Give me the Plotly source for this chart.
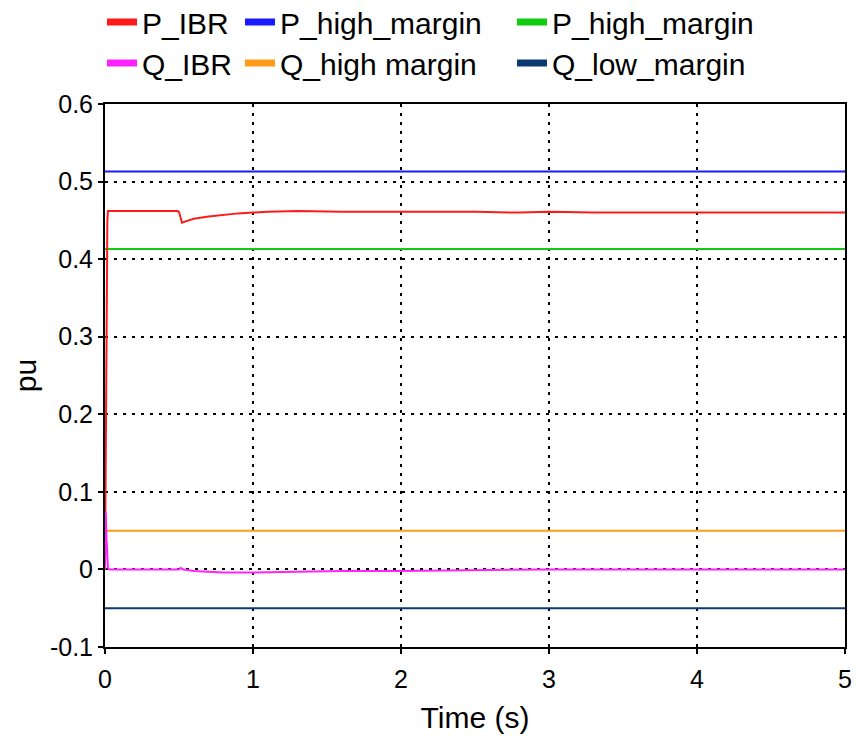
import plotly.graph_objects as go

# ---- data ----
t_end = [0.0, 5.0]

t_p_ibr = [0, 0.004, 0.008, 0.012, 0.016, 0.02, 0.49, 0.50, 0.51, 0.52, 0.55, 0.6, 0.7,
           0.8, 0.9, 1.0, 1.1, 1.3, 1.6, 2.0, 2.5, 2.8, 3.0, 3.3, 4.0, 5.0]
p_ibr = [0.0, 0.14, 0.30, 0.41, 0.45, 0.462, 0.462, 0.461, 0.452, 0.447, 0.449, 0.452, 0.455,
         0.457, 0.459, 0.460, 0.461, 0.462, 0.461, 0.461, 0.461, 0.460, 0.461, 0.460, 0.460, 0.460]

t_q_ibr = [0, 0.003, 0.006, 0.01, 0.015, 0.02, 0.03, 0.5, 0.51, 0.53, 0.6, 0.7, 0.8, 0.9,
           1.0, 1.3, 1.6, 2.0, 2.4, 2.7, 3.0, 5.0]
q_ibr = [0.0, 0.075, 0.07, 0.04, 0.01, 0.002, 0.0, 0.0, 0.002, 0.0, -0.002, -0.003, -0.004,
         -0.004, -0.004, -0.003, -0.002, -0.002, -0.001, 0.0, 0.0, 0.0]

p_high_margin_blue = [0.513, 0.513]
p_high_margin_green = [0.413, 0.413]
q_high_margin = [0.05, 0.05]
q_low_margin = [-0.05, -0.05]

names = ["P_IBR", "P_high_margin", "P_high_margin", "Q_IBR", "Q_high margin", "Q_low_margin"]
colors = ["#FF1A1A", "#1A1AFF", "#11CC11", "#FF22FF", "#FF9A1A", "#0B3A6E"]
xs = [t_p_ibr, t_end, t_end, t_q_ibr, t_end, t_end]
ys = [p_ibr, p_high_margin_blue, p_high_margin_green, q_ibr, q_high_margin, q_low_margin]

y_ticks = [-0.1, 0, 0.1, 0.2, 0.3, 0.4, 0.5, 0.6]
y_labels = ["-0.1", "0", "0.1", "0.2", "0.3", "0.4", "0.5", "0.6"]
x_ticks = [0, 1, 2, 3, 4, 5]

FONT = "Liberation Sans, Arial, sans-serif"

fig = go.Figure()
draw_order = [4, 5, 1, 2, 0, 3]
for i in draw_order:
    fig.add_trace(go.Scatter(x=xs[i], y=ys[i], mode="lines", name=names[i],
                             line=dict(color=colors[i], width=2),
                             legendgroup="g%d" % i, showlegend=False,
                             hoverinfo="x+y+name"))

# legend entries (thick sample lines), one legend per entry to match positions
text_x = [143, 281, 553, 143, 281, 553]
text_y = [22, 22, 22, 63, 63, 63]
W, H = 856, 742
legends = {}
for i in range(6):
    key = "legend" if i == 0 else "legend%d" % (i + 1)
    fig.add_trace(go.Scatter(x=[None], y=[None], mode="lines", name=names[i],
                             line=dict(color=colors[i], width=7),
                             legendgroup="g%d" % i, showlegend=True,
                             legend=key))
    legends[key] = dict(
        xref="container", yref="container",
        x=(text_x[i] - 41) / W, y=1 - text_y[i] / H,
        xanchor="left", yanchor="middle",
        orientation="h", bgcolor="rgba(0,0,0,0)", borderwidth=0,
        font=dict(family=FONT, size=30, color="black"),
        itemwidth=30,
    )

fig.update_layout(
    width=W, height=H,
    margin=dict(l=105, r=11, t=104, b=95, autoexpand=False),
    paper_bgcolor="white", plot_bgcolor="white",
    font=dict(family=FONT, size=25, color="black"),
    **legends,
)

grid_dash = "3px,6px"
fig.update_xaxes(
    range=[0, 5], tickvals=x_ticks, ticktext=[str(v) for v in x_ticks],
    showline=True, linecolor="black", linewidth=2, mirror=True,
    ticks="outside", ticklen=5, tickwidth=2, tickcolor="black",
    showgrid=True, gridcolor="black", gridwidth=1.5, griddash=grid_dash,
    zeroline=False, automargin=False, ticklabelstandoff=4,
    title=dict(text="Time (s)", font=dict(family=FONT, size=30), standoff=15),
    tickfont=dict(family=FONT, size=25),
)
fig.update_yaxes(
    range=[-0.1, 0.6], tickvals=y_ticks, ticktext=y_labels,
    showline=True, linecolor="black", linewidth=2, mirror=True,
    ticks="outside", ticklen=5, tickwidth=2, tickcolor="black",
    showgrid=True, gridcolor="black", gridwidth=1.5, griddash=grid_dash,
    zeroline=False, automargin=False,
    title=dict(text="pu", font=dict(family=FONT, size=30), standoff=4),
    tickfont=dict(family=FONT, size=25),
)

fig.write_html("out.html")
